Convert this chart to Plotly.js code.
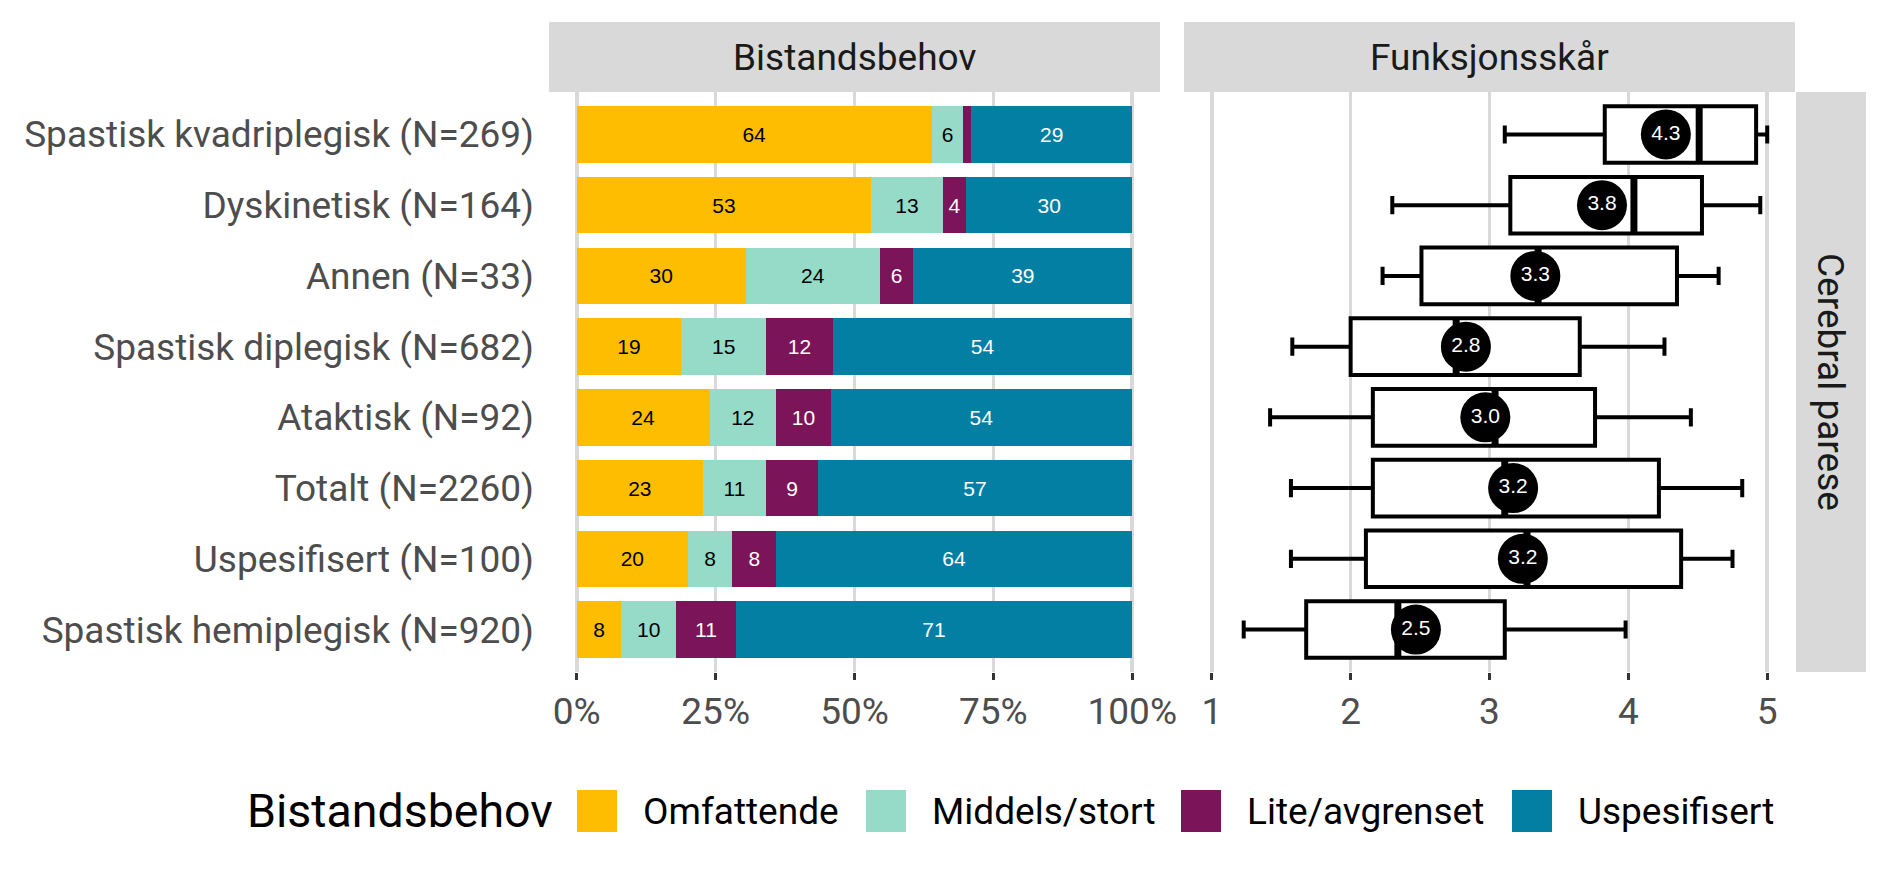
<!DOCTYPE html>
<html>
<head>
<meta charset="utf-8">
<script src="https://cdn.plot.ly/plotly-3.0.1.min.js"></script>
<style>html,body{margin:0;padding:0;background:#fff;}#chart{width:1889px;height:881px;}</style>
</head>
<body>
<div id="chart"></div>
<script>
// ---- data ----
const categories = [
  "Spastisk kvadriplegisk (N=269)",
  "Dyskinetisk (N=164)",
  "Annen (N=33)",
  "Spastisk diplegisk (N=682)",
  "Ataktisk (N=92)",
  "Totalt (N=2260)",
  "Uspesifisert (N=100)",
  "Spastisk hemiplegisk (N=920)"
];
const seriesNames = ["Omfattende", "Middels/stort", "Lite/avgrenset", "Uspesifisert"];
const omfattende = [63.9, 53.0, 30.4, 18.8, 23.9, 22.7, 20.0, 8.0];
const middels    = [5.7, 12.9, 24.2, 15.3, 12.0, 11.4, 8.0, 9.9];
const lite       = [1.4, 4.2, 6.0, 12.0, 9.8, 9.3, 7.9, 10.7];
const uspes      = [29.0, 29.9, 39.4, 53.9, 54.3, 56.6, 64.1, 71.4];

const boxLower  = [3.11, 2.30, 2.23, 1.58, 1.42, 1.57, 1.57, 1.23];
const boxQ1     = [3.83, 3.15, 2.51, 2.00, 2.16, 2.16, 2.11, 1.68];
const boxMedian = [4.51, 4.04, 3.35, 2.76, 3.04, 3.11, 3.27, 2.34];
const boxQ3     = [4.92, 4.53, 4.35, 3.65, 3.76, 4.22, 4.38, 3.11];
const boxUpper  = [5.00, 4.95, 4.65, 4.26, 4.45, 4.82, 4.75, 3.98];
const boxMean   = [4.27, 3.81, 3.33, 2.83, 2.97, 3.17, 3.24, 2.47];

const pctTicks = [0, 25, 50, 75, 100];
const pctTickText = ["0%", "25%", "50%", "75%", "100%"];
const scoreTicks = [1, 2, 3, 4, 5];

const facetLeft = "Bistandsbehov";
const facetRight = "Funksjonsskår";
const facetRow = "Cerebral parese";
const legendTitle = "Bistandsbehov";

// ---- styling ----
const colors = ["#ffbd00", "#95dbc8", "#7c1459", "#047fa4"];
const textColors = ["#000000", "#000000", "#ffffff", "#ffffff"];
const FONT = "Roboto, sans-serif";
const TXT = 37;
const W = 1889, H = 881;
const px = v => v / W, py = v => 1 - v / H;

const panelTop = 92, panelBot = 672;
const stripTop = 22;

const seriesVals = [omfattende, middels, lite, uspes];
const traces = seriesVals.map((vals, i) => ({
  type: "bar",
  orientation: "h",
  name: seriesNames[i],
  y: categories,
  x: vals,
  xaxis: "x",
  yaxis: "y",
  marker: {color: colors[i], line: {width: 0}},
  text: vals.map(v => v >= 2 ? String(Math.round(v)) : ""),
  textposition: "inside",
  insidetextanchor: "middle",
  constraintext: "none",
  textangle: 0,
  textfont: {family: "Liberation Sans, Arial, sans-serif", size: 21, color: textColors[i]},
  showlegend: false,
  hoverinfo: "x+y"
}));

traces.push({
  type: "box",
  orientation: "h",
  y: categories,
  q1: boxQ1,
  median: boxMedian,
  q3: boxQ3,
  lowerfence: boxLower,
  upperfence: boxUpper,
  width: 0.8,
  xaxis: "x2",
  yaxis: "y",
  fillcolor: "#ffffff",
  line: {color: "#000000", width: 4},
  whiskerwidth: 0.32,
  boxpoints: false,
  showlegend: false
});

traces.push({
  type: "scatter",
  mode: "markers",
  x: boxMedian,
  y: categories,
  xaxis: "x2",
  yaxis: "y",
  marker: {symbol: "line-ns", size: 40, line: {color: "#000000", width: 7}},
  showlegend: false,
  hoverinfo: "skip"
});

traces.push({
  type: "scatter",
  mode: "markers+text",
  x: boxMean,
  y: categories,
  xaxis: "x2",
  yaxis: "y",
  marker: {symbol: "circle", size: 50, color: "#000000"},
  text: boxMean.map(v => v.toFixed(1)),
  textposition: "middle center",
  textfont: {family: "Liberation Sans, Arial, sans-serif", size: 21, color: "#ffffff"},
  showlegend: false,
  hoverinfo: "x+y"
});

const axisCommon = {
  showgrid: true,
  gridcolor: "#d9d9d9",
  gridwidth: 3.5,
  zeroline: false,
  showline: false,
  ticks: "outside",
  ticklen: 7,
  tickwidth: 3,
  tickcolor: "#333333",
  tickfont: {family: FONT, size: TXT, color: "#4d4d4d"},
  fixedrange: true
};

const shapes = [
  {type: "rect", xref: "x domain", yref: "paper", x0: 0, x1: 1, y0: py(panelTop), y1: py(stripTop), fillcolor: "#d9d9d9", line: {width: 0}, layer: "below"},
  {type: "rect", xref: "x2 domain", yref: "paper", x0: 0, x1: 1, y0: py(panelTop), y1: py(stripTop), fillcolor: "#d9d9d9", line: {width: 0}, layer: "below"},
  {type: "rect", xref: "paper", yref: "y domain", x0: px(1796), x1: px(1866), y0: 0, y1: 1, fillcolor: "#d9d9d9", line: {width: 0}, layer: "below"}
];

const annotations = [
  {text: facetLeft, xref: "x domain", yref: "paper", x: 0.5, y: py((panelTop + stripTop) / 2), showarrow: false, xanchor: "center", yanchor: "middle", font: {family: FONT, size: TXT, color: "#1a1a1a"}},
  {text: facetRight, xref: "x2 domain", yref: "paper", x: 0.5, y: py((panelTop + stripTop) / 2), showarrow: false, xanchor: "center", yanchor: "middle", font: {family: FONT, size: TXT, color: "#1a1a1a"}},
  {text: facetRow, xref: "paper", yref: "y domain", x: px(1831), y: 0.5, showarrow: false, xanchor: "center", yanchor: "middle", textangle: 90, font: {family: FONT, size: TXT, color: "#1a1a1a"}}
];

// legend (manual, large keys as in reference)
const legY = 811;
annotations.push({text: legendTitle, xref: "paper", yref: "paper", x: px(245), y: py(legY), showarrow: false, xanchor: "left", yanchor: "middle", font: {family: FONT, size: 46.5, color: "#000000"}});
const keyX = [577, 866, 1181, 1512];
seriesNames.forEach((n, i) => {
  shapes.push({type: "rect", xref: "paper", yref: "paper", x0: px(keyX[i]), x1: px(keyX[i] + 40), y0: py(legY - 21), y1: py(legY + 21), fillcolor: colors[i], line: {width: 0}});
  annotations.push({text: n, xref: "paper", yref: "paper", x: px(keyX[i] + 64), y: py(legY), showarrow: false, xanchor: "left", yanchor: "middle", font: {family: FONT, size: TXT, color: "#000000"}});
});

const layout = {
  width: W, height: H,
  margin: {l: 0, r: 0, t: 0, b: 0},
  paper_bgcolor: "#ffffff",
  plot_bgcolor: "#ffffff",
  barmode: "stack",
  bargap: 0.2,
  boxgap: 0.2,
  showlegend: false,
  font: {family: FONT},
  xaxis: Object.assign({}, axisCommon, {
    domain: [px(549), px(1160)],
    range: [-5, 105],
    tickvals: pctTicks,
    ticktext: pctTickText,
    anchor: "y"
  }),
  xaxis2: Object.assign({}, axisCommon, {
    domain: [px(1184), px(1795)],
    range: [0.8, 5.2],
    tickvals: scoreTicks,
    anchor: "y"
  }),
  yaxis: {
    domain: [py(panelBot), py(panelTop)],
    type: "category",
    categoryorder: "array",
    categoryarray: categories,
    range: [categories.length - 0.4, -0.6],
    showgrid: false,
    zeroline: false,
    showline: false,
    ticks: "",
    ticklabelstandoff: 14,
    tickfont: {family: FONT, size: TXT, color: "#4d4d4d"},
    anchor: "x",
    fixedrange: true
  },
  shapes: shapes,
  annotations: annotations
};

Plotly.newPlot("chart", traces, layout, {displayModeBar: false, staticPlot: true});
</script>
</body>
</html>
